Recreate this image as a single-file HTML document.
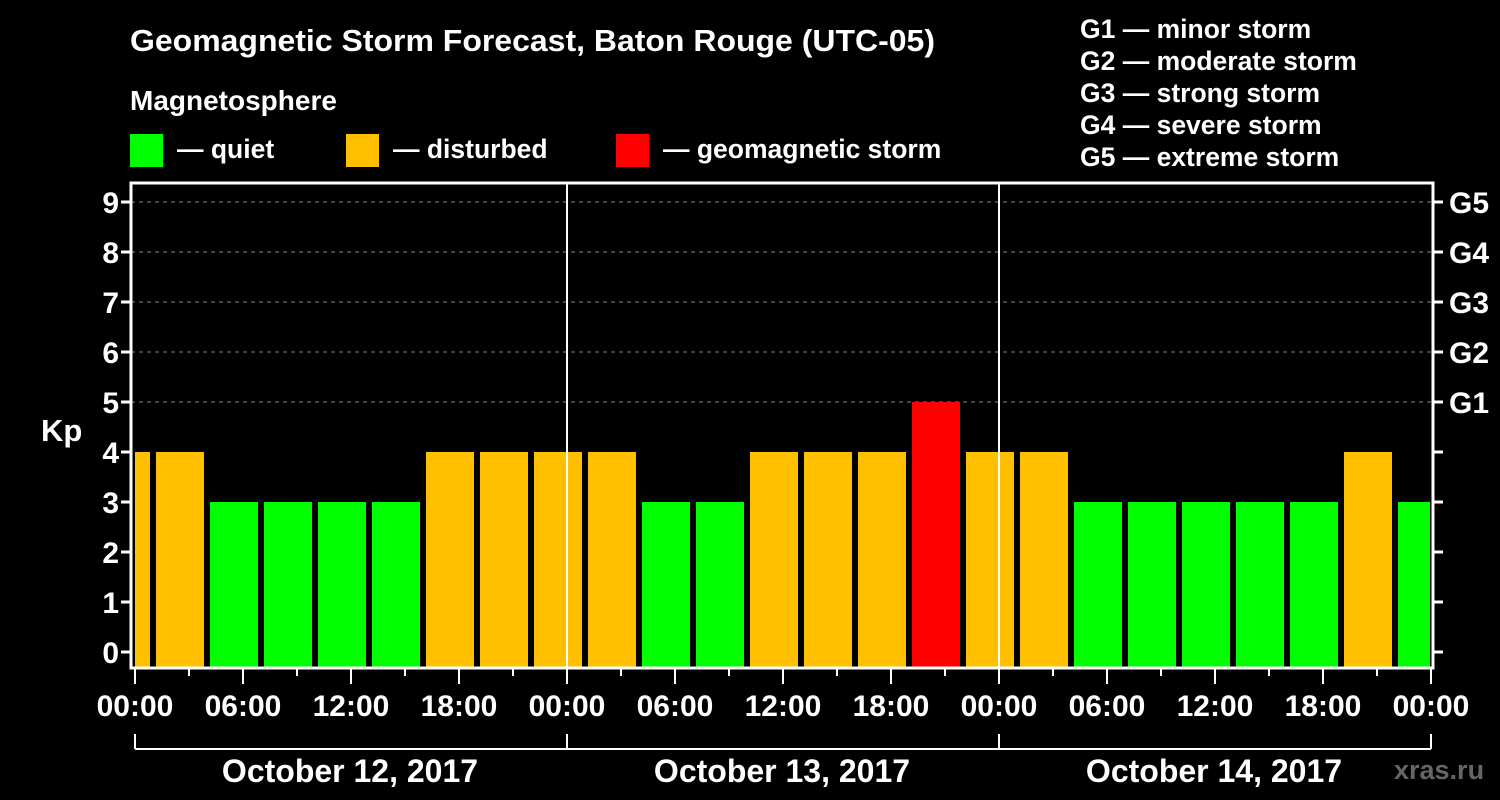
<!DOCTYPE html>
<html><head><meta charset="utf-8"><style>
body{margin:0;background:#000;width:1500px;height:800px;overflow:hidden}
svg{display:block}
text{font-family:"Liberation Sans",Arial,sans-serif;font-weight:bold;fill:#fff}
</style></head><body>
<svg id="c" width="1500" height="800">
<text x="130" y="51" font-size="31" textLength="805" lengthAdjust="spacingAndGlyphs">Geomagnetic Storm Forecast, Baton Rouge (UTC-05)</text>
<text x="130" y="110" font-size="28">Magnetosphere</text>
<rect x="130" y="134" width="33" height="33" fill="#00ff00"/>
<text x="177" y="158" font-size="26.5">— quiet</text>
<rect x="346" y="134" width="33" height="33" fill="#ffc000"/>
<text x="393" y="158" font-size="26.5">— disturbed</text>
<rect x="616" y="134" width="33" height="33" fill="#ff0000"/>
<text x="663" y="158" font-size="26.5">— geomagnetic storm</text>
<g font-size="26.5">
<text x="1080" y="38">G1 — minor storm</text>
<text x="1080" y="70">G2 — moderate storm</text>
<text x="1080" y="102">G3 — strong storm</text>
<text x="1080" y="134">G4 — severe storm</text>
<text x="1080" y="166">G5 — extreme storm</text>
</g>
<text x="41" y="441" font-size="31">Kp</text>
<text x="1394" y="779" font-size="27" style="fill:#666">xras.ru</text>
<g id="g"></g>
</svg>
<script>
const kpValues=[4,4,3,3,3,3,4,4,4,4,3,3,4,4,4,5,4,4,3,3,3,3,3,4,3];
const hourLabels=["00:00","06:00","12:00","18:00","00:00","06:00","12:00","18:00","00:00","06:00","12:00","18:00","00:00"];
const dayLabels=["October 12, 2017","October 13, 2017","October 14, 2017"];
const gLabels=["G1","G2","G3","G4","G5"];
const kpTicks=[0,1,2,3,4,5,6,7,8,9];
const X0=135,PXH=18,Y0=652,PXK=50,L=131,R=1433,T=183,B=668;
const xs=h=>X0+h*PXH, ys=k=>Y0-k*PXK;
const ns="http://www.w3.org/2000/svg",g=document.getElementById('g');
function mk(t,a){const e=document.createElementNS(ns,t);for(const k in a)e.setAttribute(k,a[k]);g.appendChild(e);return e;}
const cp=mk('clipPath',{id:'pc'});const cr=document.createElementNS(ns,'rect');
cr.setAttribute('x',L+4);cr.setAttribute('y',T);cr.setAttribute('width',R-L-7);cr.setAttribute('height',B-T);cp.appendChild(cr);
for(let k=5;k<=9;k++){const e=mk('line',{x1:L,x2:R,y1:ys(k),y2:ys(k),stroke:'#888','stroke-dasharray':'4,4','stroke-width':1});

}
kpValues.forEach((v,i)=>{const h0=-2+3*i;const c=v>=5?'#ff0000':v>=4?'#ffc000':'#00ff00';
const e=mk('rect',{x:xs(h0)+3,y:ys(v),width:3*PXH-6,height:B-1-ys(v),fill:c,'clip-path':'url(#pc)'});

});
for(let d=1;d<3;d++){const e=mk('line',{x1:xs(24*d),x2:xs(24*d),y1:T,y2:B,stroke:'#fff','stroke-width':2});

}
const f=mk('rect',{x:L,y:T,width:R-L,height:B-T,fill:'none',stroke:'#fff','stroke-width':3});


kpTicks.forEach(k=>{mk('line',{x1:L-10,x2:L,y1:ys(k),y2:ys(k),stroke:'#fff','stroke-width':3});
mk('line',{x1:R,x2:R+10,y1:ys(k),y2:ys(k),stroke:'#fff','stroke-width':3});
const t=mk('text',{x:L-12,y:ys(k)+11,'font-size':30,'text-anchor':'end'});t.textContent=k;

});
gLabels.forEach((s,i)=>{const t=mk('text',{x:R+16,y:ys(5+i)+11,'font-size':30});t.textContent=s;

});
for(let h=0;h<=72;h+=3){const big=h%6==0;mk('line',{x1:xs(h),x2:xs(h),y1:B,y2:B+(big?16:8),stroke:'#fff','stroke-width':2});}
hourLabels.forEach((s,i)=>{const t=mk('text',{x:xs(6*i),y:716,'font-size':30,'text-anchor':'middle'});t.textContent=s;

});
mk('line',{x1:xs(0),x2:xs(72),y1:749,y2:749,stroke:'#fff','stroke-width':2});
for(let d=0;d<=3;d++)mk('line',{x1:xs(24*d),x2:xs(24*d),y1:734,y2:749,stroke:'#fff','stroke-width':2});
dayLabels.forEach((s,i)=>{const t=mk('text',{x:xs(24*i+12)-1,y:782,'font-size':32,'text-anchor':'middle'});t.textContent=s;

});
</script>
</body></html>
